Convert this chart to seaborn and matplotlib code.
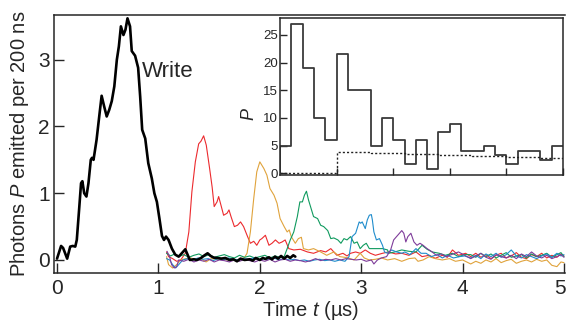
import numpy as np
import pandas as pd
import matplotlib
matplotlib.use("Agg")
import matplotlib.pyplot as plt
import matplotlib.transforms as mtransforms
import seaborn as sns

# write pulse (thick black), time in us, photons per 200 ns
t_write = [0.0, 0.04, 0.06, 0.1, 0.13, 0.155, 0.18, 0.195, 0.22, 0.237, 0.25, 0.268, 0.29, 0.31,
           0.333, 0.345, 0.36, 0.39, 0.42, 0.44, 0.465, 0.49, 0.515, 0.54, 0.565, 0.59, 0.61, 0.63,
           0.655, 0.675, 0.695, 0.72, 0.737, 0.77, 0.8, 0.82, 0.84, 0.87, 0.9, 0.935, 0.96, 0.985,
           1.01, 1.035, 1.055, 1.075, 1.1, 1.133, 1.166, 1.2, 1.23, 1.265, 1.31, 1.35, 1.38, 1.42,
           1.455, 1.485, 1.515, 1.545, 1.58, 1.62, 1.66, 1.7, 1.74, 1.775, 1.81, 1.85, 1.9, 1.93,
           1.96, 2.0, 2.03, 2.055, 2.09, 2.12, 2.15, 2.18, 2.21, 2.24, 2.27, 2.3, 2.33, 2.35]
p_write = [0.02, 0.21, 0.18, 0.02, 0.2, 0.21, 0.2, 0.3, 0.8, 1.15, 1.18, 1.0, 0.95, 1.15,
           1.5, 1.53, 1.5, 1.8, 2.2, 2.46, 2.3, 2.15, 2.25, 2.38, 2.6, 3.0, 3.2, 3.5,
           3.37, 3.45, 3.62, 3.5, 3.13, 3.06, 2.88, 2.45, 1.95, 1.82, 1.45, 1.22, 1.0, 0.87,
           0.62, 0.36, 0.3, 0.35, 0.3, 0.17, 0.08, 0.05, 0.1, 0.16, 0.0, 0.01, 0.0, 0.03,
           0.07, 0.1, 0.06, 0.035, 0.03, 0.02, 0.03, 0.0, 0.01, -0.02, 0.02, 0.0, 0.01, -0.01,
           0.03, 0.0, 0.03, 0.015, 0.04, 0.01, 0.05, 0.02, 0.06, 0.02, 0.06, 0.03, 0.07, 0.05]

# retrieved photons for five storage times
t_tail = [4.08, 4.13, 4.18, 4.23, 4.28, 4.33, 4.38, 4.43, 4.48, 4.53, 4.58, 4.63, 4.68, 4.73,
          4.78, 4.83, 4.88, 4.93, 4.97, 5.0]

t_red = [1.08, 1.1, 1.14, 1.18, 1.22, 1.265, 1.3, 1.33, 1.364, 1.397, 1.42, 1.446, 1.472, 1.505,
         1.53, 1.55, 1.578, 1.594, 1.617, 1.643, 1.677, 1.696, 1.716, 1.749, 1.78, 1.81, 1.84,
         1.874, 1.907, 1.94, 1.97, 2.0, 2.02, 2.055, 2.09, 2.12, 2.154, 2.19, 2.22, 2.25, 2.286,
         2.335, 2.4, 2.47, 2.53, 2.6, 2.65, 2.7, 2.76, 2.82, 2.86, 2.895, 2.945, 2.99, 3.04, 3.09,
         3.14, 3.21, 3.27, 3.34, 3.4, 3.47, 3.54, 3.6, 3.67, 3.73, 3.8, 3.85, 3.9, 3.96, 4.03]
p_red = [0.12, 0.05, 0.02, -0.02, 0.0, 0.1, 0.42, 1.02, 1.47, 1.74, 1.78, 1.86, 1.72, 1.37,
         1.09, 0.8, 0.87, 0.95, 0.82, 0.67, 0.7, 0.75, 0.65, 0.5, 0.52, 0.57, 0.5,
         0.37, 0.25, 0.28, 0.22, 0.3, 0.32, 0.37, 0.22, 0.25, 0.3, 0.25, 0.27, 0.3, 0.17,
         0.15, 0.16, 0.12, 0.1, 0.14, 0.12, 0.17, 0.07, 0.1, 0.06, 0.1, 0.12, 0.1, 0.15, 0.1,
         0.07, 0.1, 0.12, 0.09, 0.1, 0.07, 0.12, 0.05, 0.07, 0.025, 0.07, 0.04, 0.15, 0.07, 0.1]
p_red_tail = [0.05, 0.1, 0.04, 0.08, 0.02, 0.07, 0.1, 0.03, 0.06, 0.11, 0.04, 0.02, 0.08, 0.05,
              0.1, 0.03, 0.07, 0.04, 0.09, 0.06]

t_orange = [1.08, 1.1, 1.14, 1.18, 1.22, 1.27, 1.32, 1.37, 1.42, 1.47, 1.52, 1.57, 1.62, 1.67,
            1.72, 1.77, 1.82, 1.85, 1.874, 1.907, 1.94, 1.97, 2.0, 2.04, 2.07, 2.1, 2.14, 2.17,
            2.2, 2.24, 2.27, 2.29, 2.31, 2.35, 2.38, 2.41, 2.43, 2.48, 2.53, 2.6, 2.66, 2.73,
            2.79, 2.86, 2.93, 2.99, 3.03, 3.08, 3.14, 3.2, 3.26, 3.33, 3.4, 3.47, 3.53, 3.56,
            3.61, 3.67, 3.73, 3.8, 3.87, 3.93, 4.0]
p_orange = [0.05, -0.07, -0.12, -0.07, 0.0, 0.02, 0.03, 0.0, 0.02, -0.03, 0.02, 0.01, 0.03, 0.0,
            0.02, 0.0, 0.02, 0.04, 0.1, 0.42, 0.92, 1.32, 1.47, 1.37, 1.27, 1.07, 0.97, 0.85,
            0.62, 0.5, 0.42, 0.45, 0.35, 0.25, 0.32, 0.34, 0.17, 0.15, 0.17, 0.12, 0.07, 0.12,
            0.05, 0.035, 0.0, 0.1, 0.03, 0.0, 0.01, 0.03, 0.0, 0.02, -0.02, 0.02, 0.03, -0.02,
            0.0, 0.05, 0.02, 0.0, 0.02, -0.02, 0.0]
p_orange_tail = [-0.06, -0.02, -0.05, 0.0, -0.03, 0.02, -0.04, -0.01, 0.01, -0.05, -0.02, 0.0,
                 -0.03, 0.01, -0.02, 0.0, -0.08, -0.1, -0.03, -0.04]

t_green = [1.08, 1.12, 1.16, 1.2, 1.25, 1.3, 1.35, 1.4, 1.45, 1.5, 1.55, 1.6, 1.65, 1.7, 1.75,
           1.8, 1.85, 1.9, 1.95, 2.0, 2.05, 2.1, 2.15, 2.2, 2.24, 2.27, 2.3, 2.335, 2.37, 2.395,
           2.42, 2.44, 2.46, 2.48, 2.51, 2.53, 2.57, 2.6, 2.63, 2.67, 2.7, 2.73, 2.77, 2.8, 2.83,
           2.86, 2.895, 2.93, 2.96, 2.99, 3.02, 3.05, 3.08, 3.15, 3.21, 3.26, 3.27, 3.33, 3.4,
           3.47, 3.54, 3.6, 3.65, 3.7, 3.77, 3.83, 3.9, 3.96, 4.02]
p_green = [0.1, 0.06, 0.09, 0.05, 0.08, 0.04, 0.07, 0.09, 0.05, 0.08, 0.04, 0.06, 0.08, 0.05, 0.03,
           0.07, 0.04, 0.06, 0.03, 0.05, 0.07, 0.03, 0.06, 0.04, 0.05, 0.17, 0.3, 0.42, 0.65, 0.87,
           0.87, 0.97, 1.03, 0.9, 0.75, 0.65, 0.62, 0.52, 0.5, 0.44, 0.32, 0.33, 0.3, 0.25, 0.32,
           0.3, 0.35, 0.25, 0.27, 0.17, 0.22, 0.25, 0.17, 0.17, 0.17, 0.15, 0.1, 0.12, 0.15,
           0.13, 0.12, 0.22, 0.16, 0.12, 0.1, 0.07, 0.1, 0.05, 0.08]
p_green_tail = [0.08, 0.04, 0.1, 0.05, 0.09, 0.03, 0.07, 0.11, 0.04, 0.06, 0.08, 0.03, 0.09, 0.05,
                0.07, 0.1, 0.04, 0.08, 0.11, 0.05]

t_blue = [1.08, 1.11, 1.14, 1.17, 1.2, 1.24, 1.29, 1.34, 1.39, 1.44, 1.49, 1.54, 1.59, 1.64, 1.69,
          1.74, 1.79, 1.84, 1.89, 1.94, 1.99, 2.04, 2.09, 2.14, 2.19, 2.24, 2.29, 2.34, 2.39, 2.44,
          2.49, 2.54, 2.59, 2.64, 2.69, 2.74, 2.79, 2.84, 2.88, 2.91, 2.945, 2.98, 2.995, 3.01,
          3.04, 3.06, 3.08, 3.1, 3.11, 3.125, 3.15, 3.18, 3.21, 3.23, 3.26, 3.3, 3.35, 3.4, 3.43,
          3.48, 3.54, 3.59, 3.64, 3.69, 3.75, 3.8, 3.85, 3.91, 3.97, 4.02]
p_blue = [0.02, 0.0, -0.07, -0.12, -0.07, 0.0, 0.02, 0.0, 0.03, 0.01, 0.02, -0.01, 0.02, 0.0, 0.03,
          0.01, 0.0, 0.02, 0.01, 0.03, 0.0, 0.02, 0.01, 0.03, 0.0, 0.02, 0.0, 0.01, -0.01, 0.0,
          -0.02, 0.0, 0.01, -0.01, 0.0, -0.02, 0.0, -0.02, 0.05, 0.35, 0.4, 0.57, 0.55, 0.57,
          0.47, 0.6, 0.67, 0.68, 0.6, 0.42, 0.3, 0.32, 0.22, 0.12, 0.1, 0.15, 0.12, 0.1, 0.12,
          0.08, 0.17, 0.1, 0.1, 0.05, 0.08, 0.03, 0.07, 0.03, 0.05, 0.06]
p_blue_tail = [0.03, 0.07, 0.02, 0.09, 0.05, 0.1, 0.04, 0.08, 0.15, 0.06, 0.03, 0.08, 0.05, 0.02,
               0.06, 0.09, 0.04, 0.1, 0.06, 0.08]

t_purple = [1.085, 1.11, 1.13, 1.156, 1.18, 1.2, 1.25, 1.3, 1.35, 1.4, 1.45, 1.5, 1.55, 1.6, 1.65,
            1.7, 1.75, 1.8, 1.85, 1.9, 1.95, 2.0, 2.05, 2.1, 2.15, 2.2, 2.25, 2.3, 2.35, 2.4, 2.45,
            2.5, 2.55, 2.6, 2.65, 2.7, 2.75, 2.8, 2.85, 2.9, 2.95, 3.0, 3.05, 3.1, 3.125, 3.16,
            3.2, 3.25, 3.29, 3.32, 3.36, 3.4, 3.42, 3.44, 3.46, 3.49, 3.52, 3.55, 3.58, 3.61,
            3.65, 3.7, 3.74, 3.79, 3.84, 3.89, 3.96, 4.02]
p_purple = [0.13, 0.05, -0.07, -0.12, -0.1, 0.0, -0.02, 0.01, -0.03, 0.0, -0.02, 0.01, -0.03, 0.0,
            -0.01, -0.03, 0.0, -0.02, 0.01, -0.01, -0.03, 0.0, -0.02, 0.01, -0.03, 0.0, 0.01,
            -0.02, 0.0, -0.01, -0.03, -0.01, 0.02, -0.01, 0.01, 0.0, 0.02, 0.0, 0.02, 0.01, 0.0,
            0.01, -0.02, 0.0, -0.06, 0.0, 0.03, 0.05, 0.15, 0.3, 0.37, 0.44, 0.4, 0.27, 0.35,
            0.4, 0.27, 0.22, 0.25, 0.22, 0.17, 0.12, 0.07, 0.09, 0.05, 0.08, 0.12, 0.07]
p_purple_tail = [0.02, 0.06, 0.1, 0.04, 0.01, 0.08, 0.05, 0.03, 0.07, 0.02, 0.09, 0.05, 0.12, 0.06,
                 0.03, 0.07, 0.02, 0.05, 0.08, 0.04]

# inset: photon histogram per 200 ns bin (25 bins over 0-5 us) and background level
hist_counts = [5, 27, 19, 10, 6, 21.5, 15, 15, 5, 10, 6, 1.7, 6, 0.8, 7.4, 9, 4.1, 4.1, 5, 3.3,
               1.7, 4.1, 4.1, 2.5, 5]
background = [0, 0, 0, 0, 0, 3.9, 3.85, 3.8, 3.75, 3.7, 3.6, 3.55, 3.5, 3.45, 3.4, 3.3, 3.25,
              3.2, 3.15, 3.1, 3.0, 2.95, 2.9, 2.8, 2.7]

sns.set_style("ticks")
plt.rcParams['font.family'] = ['Liberation Sans', 'DejaVu Sans']
plt.rcParams['mathtext.fontset'] = 'custom'
plt.rcParams['mathtext.it'] = 'Liberation Sans:italic'
plt.rcParams['mathtext.rm'] = 'Liberation Sans'

fig = plt.figure(figsize=(5.67, 3.22), dpi=100)
ax = fig.add_axes([0.0952, 0.1512, 0.9013, 0.8022])

traces = [
    (t_red + t_tail, p_red + p_red_tail, '#ec2a2e'),
    (t_orange + t_tail, p_orange + p_orange_tail, '#e0a33c'),
    (t_green + t_tail, p_green + p_green_tail, '#0f9a5e'),
    (t_blue + t_tail, p_blue + p_blue_tail, '#1f8ccc'),
    (t_purple + t_tail, p_purple + p_purple_tail, '#7e3c9a'),
]
for tt, pp, col in traces:
    sns.lineplot(x=tt, y=pp, ax=ax, color=col, lw=0.8, estimator=None, sort=False)

sns.lineplot(x=t_write, y=p_write, ax=ax, color='black', lw=1.9, estimator=None, sort=False)
ax.text(0.84, 2.83, "Write", fontsize=16, va='center', ha='left')

ax.set_xlim(-0.03, 5.01)
ax.set_ylim(-0.2, 3.67)
ax.set_xticks([0, 1, 2, 3, 4, 5])
ax.set_yticks([0, 1, 2, 3])
ax.tick_params(direction='in', length=7, width=1, labelsize=15, top=False, right=False)
ax.tick_params(axis='x', pad=4)
ax.tick_params(axis='y', pad=3)
# keep the last x label inside the canvas
last = ax.get_xticklabels()[-1]
last.set_transform(last.get_transform() + mtransforms.ScaledTranslation(-3 / 72, 0, fig.dpi_scale_trans))
ax.spines['right'].set_visible(False)
for s in ['left', 'bottom', 'top']:
    ax.spines[s].set_linewidth(1.1)
ax.set_xlabel("Time $t$ (µs)", fontsize=14.5)
ax.set_ylabel("Photons $P$ emitted per 200 ns", fontsize=14.5)
ax.xaxis.set_label_coords(0.502, -0.1)
ax.yaxis.set_label_coords(-0.045, 0.5)

# inset
axi = fig.add_axes([0.4938, 0.4565, 0.4992, 0.4867])
axi.set_facecolor('white')
edges = np.linspace(0, 5, 26)
sns.lineplot(x=[0.0] + list(edges), y=[0.0] + hist_counts + [hist_counts[-1]], ax=axi,
             color='#3a3a3a', lw=1.3, drawstyle='steps-post', estimator=None, sort=False)
sns.lineplot(x=list(edges), y=background + [background[-1]], ax=axi, color='#222222', lw=1.0,
             ls=(0, (1.5, 1.5)), drawstyle='steps-post', estimator=None, sort=False)
axi.set_xlim(0, 5)
axi.set_ylim(-0.3, 28)
axi.set_xticks([1, 2, 3, 4, 5])
axi.set_xticklabels([])
axi.set_yticks([0, 5, 10, 15, 20, 25])
axi.tick_params(direction='in', length=5, width=1, labelsize=9.5, pad=1.5)
for s in axi.spines.values():
    s.set_linewidth(1.1)
axi.set_ylabel("$P$", fontsize=13)
axi.yaxis.set_label_coords(-0.078, 0.386)

fig.savefig("out.png", dpi=100)
